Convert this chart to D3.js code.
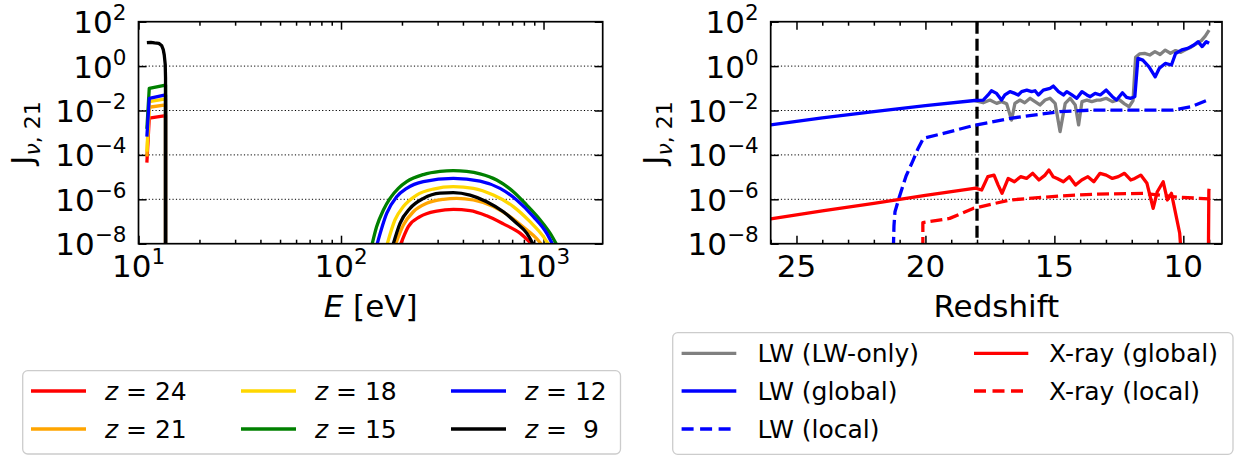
<!DOCTYPE html>
<html><head><meta charset="utf-8">
<script src="https://cdn.jsdelivr.net/npm/d3@7"></script>
<style>
body{margin:0;background:#fff}
svg{display:block}
text{font-family:"DejaVu Sans",sans-serif;fill:#000}
</style>
</head><body>
<svg id="c" width="1241" height="456"></svg>
<script>
// ---------------- DATA ----------------
// Left panel: spectra J_nu,21 vs photon energy E [eV] at several redshifts
const specRedshifts = [24, 21, 18, 15, 12, 9];
const specLabels = ["z = 24", "z = 21", "z = 18", "z = 15", "z = 12", "z =  9"];
const specColors = ["#ff0000", "#ffa500", "#ffd700", "#008000", "#0000ff", "#000000"];

// Lyman-Werner band part  [E (eV), J]
const lw_z24 = [[11.0, 4.5e-5], [11.3, 4.5e-3], [13.6, 5.9e-3], [13.6, 1e-12]];
const lw_z21 = [[11.0, 8.5e-5], [11.3, 1.4e-2], [13.6, 1.8e-2], [13.6, 1e-12]];
const lw_z18 = [[11.0, 1.4e-4], [11.3, 2.5e-2], [13.6, 3.3e-2], [13.6, 1e-12]];
const lw_z15 = [[11.0, 1.5e-3], [11.3, 1.0e-1], [13.6, 1.4e-1], [13.6, 1e-12]];
const lw_z12 = [[11.0, 6.6e-4], [11.3, 3.5e-2], [13.6, 5.0e-2], [13.6, 1e-12]];
const lw_z9  = [[11.0, 11.5], [11.5, 11.8], [12.0, 11.0], [12.6, 10.5], [13.0, 8.5], [13.25, 5.5],
                [13.4, 3.2], [13.55, 1.2], [13.6, 0.3], [13.6, 1e-12]];

// X-ray part  [E (eV), J]
const xr_z24 = [[195.6, 8e-9], [215.0, 5.9e-8], [245.5, 1.66e-7], [296.9, 2.95e-7], [358.7, 3.5e-7],
                [433.6, 3.1e-7], [524.2, 1.8e-7], [633.6, 7.8e-8], [765.6, 3.0e-8], [890.9, 8e-9]];
const xr_z21 = [[184.8, 8e-9], [203.2, 6.9e-8], [227.6, 2.75e-7], [264.9, 6.6e-7], [320.2, 1.0e-6],
                [372.5, 1.1e-6], [450.3, 9.3e-7], [565.3, 4.7e-7], [683.2, 1.66e-7], [825.9, 4.2e-8],
                [925.4, 1.7e-8], [990.6, 8e-9]];
const xr_z18 = [[168.1, 8e-9], [184.8, 1.2e-7], [203.2, 4.7e-7], [236.4, 1.55e-6], [285.8, 2.9e-6],
                [358.7, 3.7e-6], [450.3, 3.1e-6], [565.3, 1.55e-6], [709.7, 4.7e-7], [857.9, 9.8e-8],
                [998.0, 2.1e-8], [1069, 8e-9]];
const xr_z15 = [[141.8, 8e-9], [150.0, 5.9e-8], [161.9, 3.3e-7], [174.6, 1.1e-6], [191.9, 3.1e-6],
                [211.0, 6.2e-6], [255.1, 1.3e-5], [308.3, 1.8e-5], [358.7, 1.95e-5], [417.4, 1.8e-5],
                [485.9, 1.4e-5], [587.1, 7.4e-6], [709.6, 2.2e-6], [825.9, 5.5e-7], [961.0, 1.2e-7],
                [1077, 3.0e-8], [1170, 8e-9]];
const xr_z12 = [[150.0, 8e-9], [168.1, 2.3e-7], [188.3, 1.3e-6], [211.0, 3.1e-6], [255.1, 6.2e-6],
                [358.7, 8.7e-6], [485.9, 6.6e-6], [609.9, 3.1e-6], [737.2, 9.3e-7], [890.9, 1.66e-7],
                [1036, 3.0e-8], [1118, 8e-9]];
const xr_z9  = [[180.0, 8e-9], [195.6, 8.3e-8], [219.2, 3.9e-7], [255.1, 1.1e-6], [308.3, 1.9e-6],
                [358.7, 2.0e-6], [433.6, 1.55e-6], [524.2, 7.8e-7], [633.6, 2.75e-7], [737.2, 8.3e-8],
                [825.9, 3.0e-8], [898.0, 8e-9]];

const lwSpectra = [lw_z24, lw_z21, lw_z18, lw_z15, lw_z12, lw_z9];
const xrSpectra = [xr_z24, xr_z21, xr_z18, xr_z15, xr_z12, xr_z9];

// Right panel: [redshift, log10 J_nu,21]
const lwOnly_log10J = [[18.09,-1.56],[17.76,-1.65],[17.50,-1.53],[17.24,-1.68],[17.05,-1.60],[16.85,-1.70],
  [16.66,-2.43],[16.53,-1.68],[16.34,-1.53],[16.15,-1.65],[15.94,-1.45],[15.75,-1.60],[15.56,-1.75],
  [15.36,-1.53],[15.17,-1.45],[14.97,-1.68],[14.78,-2.95],[14.58,-1.68],[14.39,-1.45],[14.19,-1.75],
  [14.06,-2.65],[13.93,-1.60],[13.74,-1.53],[13.55,-1.60],[13.35,-1.53],[13.22,-1.53],[12.99,-1.45],
  [12.75,-1.60],[12.50,-1.50],[12.28,-1.70],[12.10,-1.83],[11.95,-1.55],[11.85,0.40],[11.70,0.55],
  [11.50,0.57],[11.30,0.50],[11.10,0.65],[10.90,0.52],[10.70,0.72],[10.50,0.58],[10.30,0.70],
  [10.10,0.62],[9.90,0.75],[9.70,0.85],[9.50,1.00],[9.30,1.15],[9.15,1.35],[9.00,1.62]];
const lwGlobal_log10J = [[26,-2.65],[24,-2.33],[22,-2.05],[20,-1.78],[18.09,-1.55],[17.76,-1.53],
  [17.57,-1.30],[17.44,-1.11],[17.24,-1.23],[17.05,-1.53],[16.92,-1.30],[16.72,-1.15],[16.53,-1.23],
  [16.40,-1.30],[16.27,-1.15],[16.07,-1.08],[15.88,-1.15],[15.75,-1.11],[15.62,-1.30],[15.43,-1.08],
  [15.17,-1.00],[15.04,-0.90],[14.84,-1.15],[14.65,-1.30],[14.52,-1.15],[14.32,-1.30],[14.13,-1.45],
  [13.93,-1.15],[13.74,-1.30],[13.61,-1.38],[13.42,-1.23],[13.22,-1.30],[12.99,-1.08],[12.75,-1.38],
  [12.59,-1.53],[12.36,-1.20],[12.20,-1.41],[12.04,-1.45],[11.88,-1.38],[11.76,0.35],[11.57,0.27],
  [11.33,-0.03],[11.09,-0.48],[10.93,-0.10],[10.70,0.12],[10.46,0.05],[10.30,0.57],[10.06,0.73],
  [9.83,0.80],[9.59,0.95],[9.43,1.10],[9.27,0.88],[9.11,1.10],[9.00,1.03]];
const lwLocal_log10J = [[21.26,-9],[21.22,-7.2],[21.18,-6.56],[21.0,-5.85],[20.75,-4.95],[20.5,-4.3],
  [20.3,-3.75],[20.08,-3.25],[19.3,-3.03],[18.15,-2.68],[16.7,-2.35],[14.8,-2.05],[13.5,-1.98],
  [12.0,-1.98],[10.4,-1.98],[9.7,-1.83],[9.0,-1.50]];
const xrGlobal_log10J = [[26,-6.88],[24,-6.52],[22,-6.18],[20,-5.82],[18.05,-5.50],[17.82,-5.58],
  [17.58,-4.98],[17.34,-4.91],[17.18,-5.36],[17.03,-5.73],[16.79,-5.06],[16.55,-5.21],[16.31,-4.98],
  [16.08,-5.06],[15.84,-4.83],[15.60,-5.13],[15.36,-4.91],[15.21,-4.68],[15.05,-4.98],[14.89,-5.06],
  [14.65,-5.21],[14.42,-4.98],[14.18,-5.36],[13.94,-5.13],[13.70,-4.98],[13.47,-5.21],[13.23,-4.83],
  [12.99,-4.91],[12.75,-5.06],[12.52,-4.98],[12.28,-4.83],[12.04,-5.13],[11.88,-5.06],[11.65,-4.91],
  [11.41,-5.28],[11.17,-6.41],[11.01,-5.66],[10.78,-5.21],[10.62,-6.03],[10.46,-5.73],[10.14,-7.53],
  [10.05,-9],[9.03,-9],[9.01,-5.6],[9.0,-5.52]];
const xrLocal_log10J = [[20.1,-9],[20.1,-7.05],[19.06,-6.86],[18.15,-6.41],[16.72,-6.03],[14.78,-5.85],
  [13.48,-5.77],[11.53,-5.73],[10.24,-5.90],[9.0,-5.98]];
const markerRedshift = 18;

const rightSeries = [
  {name: "LW (LW-only)",   data: lwOnly_log10J,   color: "#808080", dash: null},
  {name: "LW (global)",    data: lwGlobal_log10J, color: "#0000ff", dash: null},
  {name: "LW (local)",     data: lwLocal_log10J,  color: "#0000ff", dash: "12,5"},
  {name: "X-ray (global)", data: xrGlobal_log10J, color: "#ff0000", dash: null},
  {name: "X-ray (local)",  data: xrLocal_log10J,  color: "#ff0000", dash: "12,5"}
];

// Axis ticks
const yMajor = [1e-8, 1e-6, 1e-4, 1e-2, 1e0, 1e2];
const yGrid = [1e-6, 1e-4, 1e-2, 1e0];
const eMajor = [10, 100, 1000];
const zMajor = [25, 20, 15, 10];

// ---------------- LAYOUT ----------------
const svg = d3.select("#c");
const yTop = 21.7, yBot = 243.7;
const LP = {x0: 138.5, x1: 602.7};
const RP = {x0: 770.7, x1: 1222};
const FS = 31, SUP = 21.5, LEG = 25, LW = 3.3;

const y = d3.scaleLog().domain([1e-8, 1e2]).range([yBot, yTop]);
const xE = d3.scaleLog().domain([10, 1960]).range([LP.x0, LP.x1]);
const xZ = d3.scaleLinear().domain([26, 8.5]).range([RP.x0, RP.x1]);

const eMinor = [];
[10, 100, 1000].forEach(d => { for (let k = 2; k <= 9; k++) { const v = d * k; if (v < 1960) eMinor.push(v); } });
const zMinor = d3.range(9, 27).filter(v => v % 5 !== 0);

function supText(sel, x, yy, exp, anchor) {
  const t = sel.append("text").attr("x", x).attr("y", yy).attr("text-anchor", anchor)
    .style("font-size", FS + "px");
  t.append("tspan").text("10");
  t.append("tspan").attr("dy", -13).style("font-size", SUP + "px")
    .text(exp < 0 ? "\u2212" + (-exp) : String(exp));
  return t;
}

function panel(P, xs, xMaj, xMin, id) {
  const g = svg.append("g");
  g.append("clipPath").attr("id", id).append("rect")
    .attr("x", P.x0).attr("y", yTop).attr("width", P.x1 - P.x0).attr("height", yBot - yTop);
  g.selectAll(".grid").data(yGrid).enter().append("line")
    .attr("x1", P.x0).attr("x2", P.x1).attr("y1", d => y(d)).attr("y2", d => y(d))
    .attr("stroke", "#000").attr("stroke-width", 1).attr("stroke-dasharray", "1.2,2.2");
  const tickStyle = s => { s.select(".domain").remove(); s.selectAll("line").attr("stroke-width", 1.5); s.selectAll("text").remove(); };
  g.append("g").attr("transform", `translate(0,${yBot})`).call(d3.axisBottom(xs).tickValues(xMaj).tickSize(-8)).call(tickStyle);
  g.append("g").attr("transform", `translate(0,${yBot})`).call(d3.axisBottom(xs).tickValues(xMin).tickSize(-4)).call(tickStyle);
  g.append("g").attr("transform", `translate(0,${yTop})`).call(d3.axisTop(xs).tickValues(xMaj).tickSize(-8)).call(tickStyle);
  g.append("g").attr("transform", `translate(0,${yTop})`).call(d3.axisTop(xs).tickValues(xMin).tickSize(-4)).call(tickStyle);
  g.append("g").attr("transform", `translate(${P.x0},0)`).call(d3.axisLeft(y).tickValues(yMajor).tickSize(-8)).call(tickStyle);
  g.append("g").attr("transform", `translate(${P.x1},0)`).call(d3.axisRight(y).tickValues(yMajor).tickSize(-8)).call(tickStyle);
  yMajor.forEach(v => supText(g, P.x0 - 12, y(v) + 11.5, Math.round(Math.log10(v)), "end"));
  return g;
}

// ----- Left panel -----
const gl = panel(LP, xE, eMajor, eMinor, "clipL");
const plotL = gl.append("g").attr("clip-path", "url(#clipL)");
const lineLin = d3.line().x(d => xE(d[0])).y(d => y(d[1]));
const lineSm = d3.line().x(d => xE(d[0])).y(d => y(d[1])).curve(d3.curveMonotoneX);
specRedshifts.forEach((z, i) => {
  plotL.append("path").attr("d", lineLin(lwSpectra[i])).attr("fill", "none")
    .attr("stroke", specColors[i]).attr("stroke-width", LW).attr("stroke-linejoin", "round");
  plotL.append("path").attr("d", lineSm(xrSpectra[i])).attr("fill", "none")
    .attr("stroke", specColors[i]).attr("stroke-width", LW);
});
gl.append("rect").attr("x", LP.x0).attr("y", yTop).attr("width", LP.x1 - LP.x0).attr("height", yBot - yTop)
  .attr("fill", "none").attr("stroke", "#000").attr("stroke-width", 1.7);
eMajor.forEach(v => supText(gl, xE(v), 277, Math.round(Math.log10(v)), "middle"));

// ----- Right panel -----
const gr = panel(RP, xZ, zMajor, zMinor, "clipR");
const plotR = gr.append("g").attr("clip-path", "url(#clipR)");
plotR.append("line").attr("x1", xZ(markerRedshift)).attr("x2", xZ(markerRedshift))
  .attr("y1", yTop).attr("y2", yBot).attr("stroke", "#000").attr("stroke-width", LW)
  .attr("stroke-dasharray", "12,5");
const lineZ = d3.line().x(d => xZ(d[0])).y(d => y(Math.pow(10, d[1])));
rightSeries.forEach(s => {
  plotR.append("path").attr("d", lineZ(s.data)).attr("fill", "none").attr("stroke", s.color)
    .attr("stroke-width", LW).attr("stroke-linejoin", "round")
    .attr("stroke-dasharray", s.dash);
});
gr.append("rect").attr("x", RP.x0).attr("y", yTop).attr("width", RP.x1 - RP.x0).attr("height", yBot - yTop)
  .attr("fill", "none").attr("stroke", "#000").attr("stroke-width", 1.7);
zMajor.forEach(v => gr.append("text").attr("x", xZ(v)).attr("y", 277).attr("text-anchor", "middle")
  .style("font-size", FS + "px").text(v));

// axis labels
const xl = svg.append("text").attr("x", (LP.x0 + LP.x1) / 2).attr("y", 317).attr("text-anchor", "middle")
  .style("font-size", FS + "px");
xl.append("tspan").style("font-style", "italic").text("E");
xl.append("tspan").text(" [eV]");
svg.append("text").attr("x", (RP.x0 + RP.x1) / 2).attr("y", 317).attr("text-anchor", "middle")
  .style("font-size", FS + "px").text("Redshift");

function yLabel(cx, cy) {
  const t = svg.append("text").attr("transform", `translate(${cx},${cy}) rotate(-90)`)
    .attr("text-anchor", "middle").style("font-size", FS + "px");
  t.append("tspan").text("J");
  t.append("tspan").attr("dy", 7).style("font-size", "22px").style("font-style", "italic").text("\u03bd");
  t.append("tspan").style("font-size", "22px").text(", 21");
}
yLabel(33, 133);
yLabel(33 + (RP.x0 - LP.x0), 133);

// ----- Legends -----
function legendBox(x0, y0, x1, y1) {
  svg.append("rect").attr("x", x0).attr("y", y0).attr("width", x1 - x0).attr("height", y1 - y0)
    .attr("rx", 5).attr("fill", "#fff").attr("stroke", "#cccccc").attr("stroke-width", 1.3);
}
function legendItem(hx0, hx1, tx, ry, color, dash, label, italicZ) {
  svg.append("line").attr("x1", hx0).attr("x2", hx1).attr("y1", ry).attr("y2", ry)
    .attr("stroke", color).attr("stroke-width", LW).attr("stroke-dasharray", dash);
  const t = svg.append("text").attr("x", tx).attr("y", ry + 9).style("font-size", LEG + "px")
    .attr("xml:space", "preserve").style("white-space", "pre");
  if (italicZ) {
    t.append("tspan").style("font-style", "italic").text(label.slice(0, 1));
    t.append("tspan").text(label.slice(1));
  } else t.text(label);
}
legendBox(22.7, 370.7, 620.5, 454);
const lcols = [[31, 86, 105], [241, 296, 315], [451, 506, 525]];
const lrows = [391, 429];
specRedshifts.forEach((z, i) => {
  const c = lcols[Math.floor(i / 2)], r = lrows[i % 2];
  legendItem(c[0], c[1], c[2], r, specColors[i], null, specLabels[i], true);
});
legendBox(672.7, 332.7, 1233, 454.3);
const rcols = [[681.6, 736.3, 757.5], [974, 1028.3, 1049]];
const rrows = [353.3, 391, 429];
rightSeries.forEach((s, i) => {
  const c = i < 3 ? rcols[0] : rcols[1], r = rrows[i < 3 ? i : i - 3];
  legendItem(c[0], c[1], c[2], r, s.color, s.dash ? "12,6.5" : null, s.name, false);
});
</script>
</body></html>
